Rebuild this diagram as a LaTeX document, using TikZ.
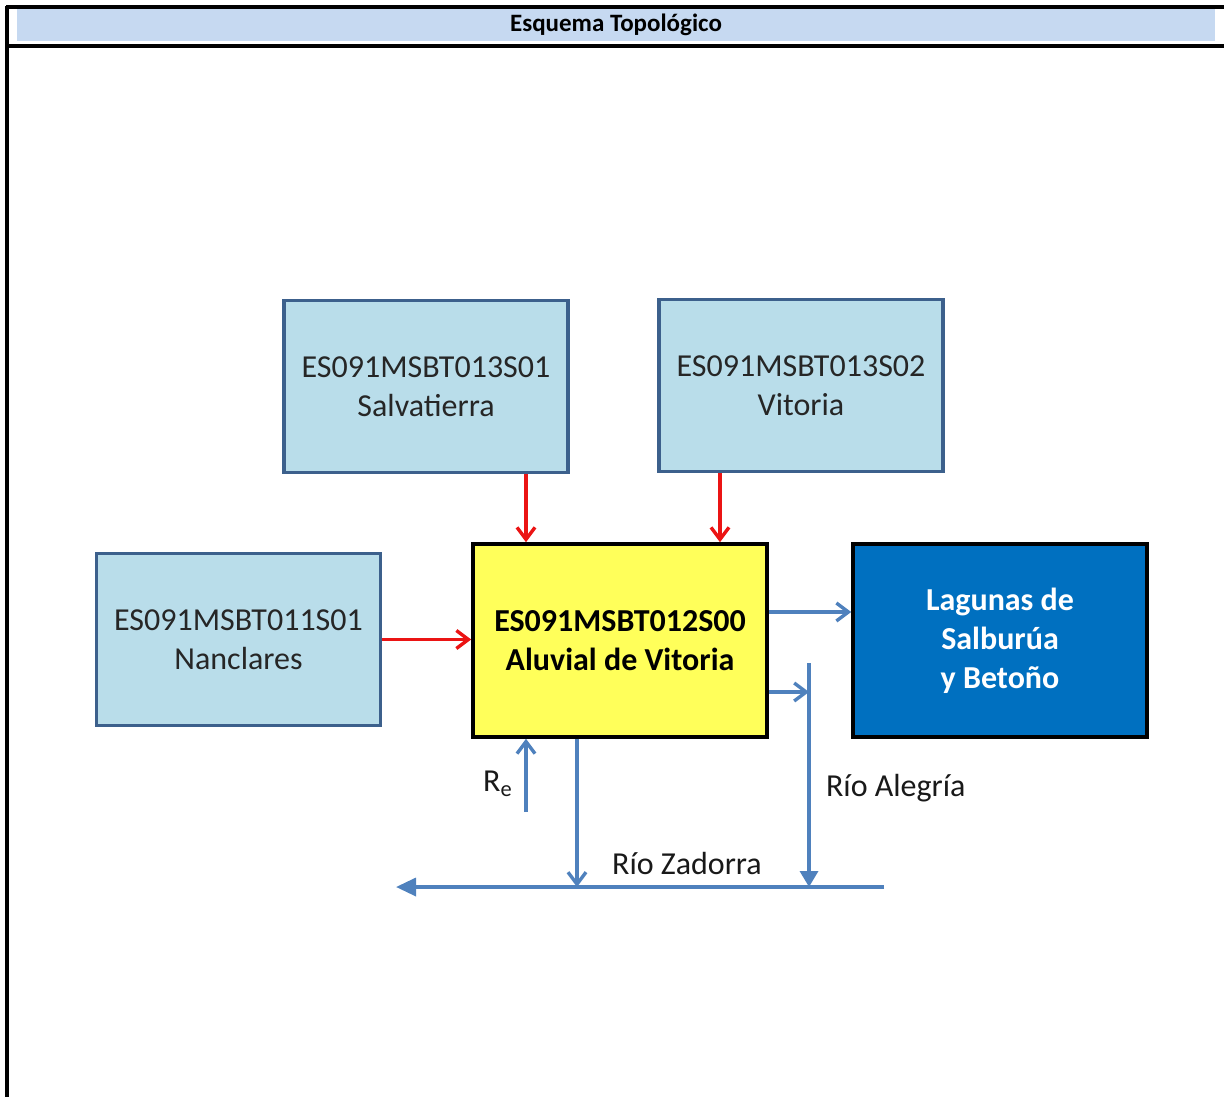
\documentclass[tikz,border=0pt]{standalone}
\usepackage{fontspec}
\setmainfont{Carlito}
\usetikzlibrary{arrows.meta}
\definecolor{cabecera}{RGB}{198,217,241}
\definecolor{celeste}{RGB}{185,221,234}
\definecolor{bordeazul}{RGB}{60,96,140}
\definecolor{amarillo}{RGB}{255,255,90}
\definecolor{laguna}{RGB}{0,112,192}
\definecolor{rio}{RGB}{79,129,189}
\definecolor{rojo}{RGB}{235,20,20}
\begin{document}
\begin{tikzpicture}[x=0.5pt,y=-0.5pt]
		% Estilos
		\tikzstyle{marco}=[line width=1.7pt,black]
		\tikzstyle{masa}=[fill=celeste,draw=bordeazul,line width=1.8pt,minimum width=142pt,minimum height=86pt,align=center,text=black!85,font=\fontsize{16}{19.5}\selectfont]
		\tikzstyle{principal}=[fill=amarillo,draw=black,line width=1.8pt,minimum width=147pt,minimum height=96.5pt,align=center,font=\fontsize{16}{19.5}\selectfont\bfseries]
		\tikzstyle{humedal}=[principal,fill=laguna,text=white]
		\tikzstyle{flecharoja}=[-{Straight Barb[length=6pt,width=9pt]},rojo,line width=1.7pt]
		\tikzstyle{flechaazul}=[-{Straight Barb[length=6pt,width=9pt]},rio,line width=1.7pt]
		\tikzstyle{cauce}=[-{Triangle[length=8pt,width=9pt]},rio,line width=1.7pt]
		\tikzstyle{etiqueta}=[font=\fontsize{16}{19}\selectfont,text=black!90]
		% Dimensiones
		\def\Ancho{1224}
		\def\Alto{1097}
		\def\NivelRio{887}
		
		\useasboundingbox (0,0) rectangle (\Ancho,\Alto);
		% Tabla
		\fill[cabecera] (17,9) rectangle (1215,41);
		\draw[marco] (6,7) -- (\Ancho,7);
		\draw[marco] (6,46) -- (\Ancho,46);
		\draw[marco] (7,6) -- (7,\Alto);
		\node[font=\fontsize{12.5}{14}\selectfont\bfseries] (titulo) at (616,25) {Esquema Topológico};
		% Nodos
		\node[masa] (Salv) at (426,386.5) {ES091MSBT013S01\\Salvatierra};
		\node[masa] (Vit) at (801,385.5) {ES091MSBT013S02\\Vitoria};
		\node[masa] (Nanc) at (238.5,639.5) {ES091MSBT011S01\\Nanclares};
		\node[principal] (Alu) at (620,640.5) {ES091MSBT012S00\\Aluvial de Vitoria};
		\node[humedal] (Lag) at (1000,640.5) {Lagunas de\\Salburúa\\y Betoño};
		
		\coordinate (ZadE) at (884,\NivelRio);
		\coordinate (ZadO) at (396,\NivelRio);
		\coordinate (AleN) at (809,663);
		\coordinate (Rec) at (526,812);
		% Flechas
		\draw[flecharoja] ([xshift=50pt]Salv.south) coordinate (s1) -- (s1 |- Alu.north);
		\draw[flecharoja] ([xshift=-40.5pt]Vit.south) coordinate (s2) -- (s2 |- Alu.north);
		\draw[flecharoja] (Nanc.east) -- (Alu.west |- Nanc.east);
		\draw[flechaazul] ([yshift=14.25pt]Alu.east) coordinate (e1) -- (e1 -| Lag.west);
		\draw[flechaazul] ([yshift=-25.75pt]Alu.east) coordinate (e2) -- (e2 -| AleN);
		\draw[cauce] (AleN) -- (AleN |- ZadE);
		\draw[cauce,-{Triangle[length=10pt,width=9pt]}] (ZadE) -- (ZadO);
		\draw[flechaazul] ([xshift=-21.5pt]Alu.south) coordinate (e3) -- (e3 |- ZadE);
		\draw[flechaazul] (Rec) -- (Rec |- Alu.south);
		
		\node[etiqueta] (Re) at (498,784) {R\textsubscript{e}};
		\node[etiqueta,anchor=west] (Ale) at (819,788) {Río Alegría};
		\node[etiqueta] (Zad) at (687,863) {Río Zadorra};
		
	\end{tikzpicture}
\end{document}
